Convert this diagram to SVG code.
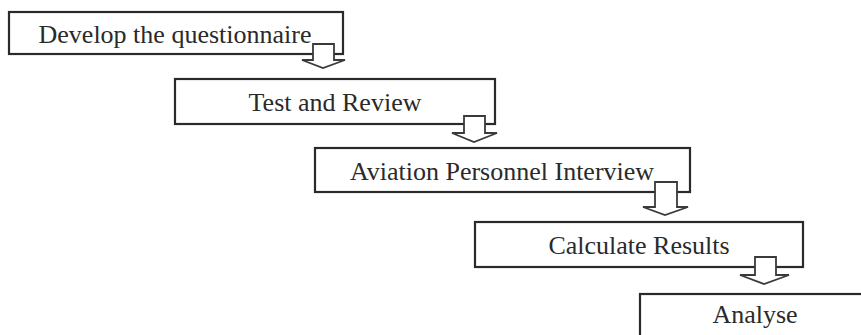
<svg xmlns="http://www.w3.org/2000/svg" width="861" height="335" viewBox="0 0 861 335">
<style>
.box{fill:#fff;stroke:#2a2a2a;stroke-width:2.2}
.lbl{font-family:"Liberation Serif","Times New Roman",serif;font-size:26px;fill:#2a2a2a;text-anchor:middle}
.arr{fill:#fff;stroke:#3a3a3a;stroke-width:1.8;stroke-linejoin:miter}
</style>
<rect width="861" height="335" fill="#fff"/>
<g id="n1"><rect class="box" x="9" y="12" width="334" height="42"/><text class="lbl" x="175" y="43">Develop the questionnaire</text></g>
<g id="n2"><rect class="box" x="175" y="79" width="320" height="45"/><text class="lbl" x="335" y="111">Test and Review</text></g>
<g id="n3"><rect class="box" x="315" y="148" width="375" height="44"/><text class="lbl" x="502" y="180">Aviation Personnel Interview</text></g>
<g id="n4"><rect class="box" x="475" y="222" width="328" height="45"/><text class="lbl" x="639" y="254">Calculate Results</text></g>
<g id="n5"><rect class="box" x="640" y="294" width="240" height="60"/><text class="lbl" x="755" y="323">Analyse</text></g>
<g id="connectors">
<polygon class="arr" points="313,44 334,44 334,60 345,60 323,68 302,60 313,60"/>
<polygon class="arr" points="464,116 485,116 485,133 497,133 474,142 452,133 464,133"/>
<polygon class="arr" points="655,182 677,182 677,207 688,207 665,215 643,207 655,207"/>
<polygon class="arr" points="755,257 776,257 776,275 789,275 764,284 740,275 755,275"/>
</g>
</svg>
